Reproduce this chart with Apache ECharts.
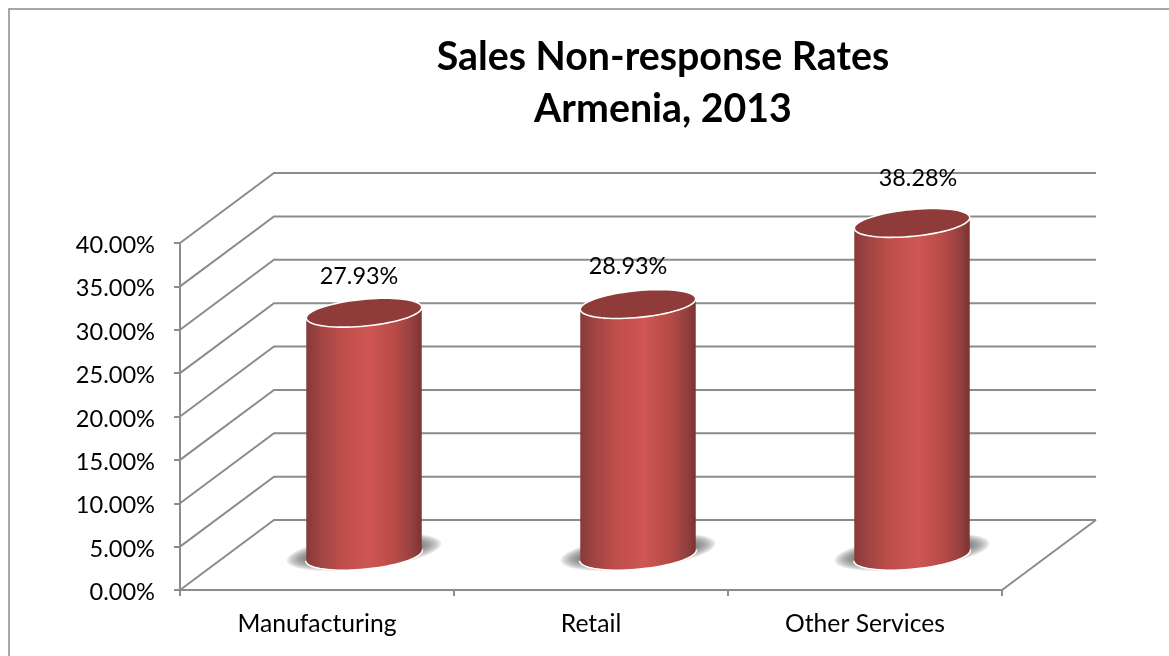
<!DOCTYPE html>
<html>
<head>
<meta charset="utf-8">
<style>html,body{margin:0;padding:0;background:#fff;overflow:hidden}#c{width:1169px;height:656px}</style>
<script src="https://cdn.jsdelivr.net/npm/echarts@6/dist/echarts.min.js"></script>
</head>
<body>
<div id="c"></div>
<script>
const categories = ['Manufacturing', 'Retail', 'Other Services'];
const rates = [27.93, 28.93, 38.28];
const gridValues = [0, 5, 10, 15, 20, 25, 30, 35, 40];
const titleText = 'Sales Non-response Rates\nArmenia, 2013';

const DEPTH_X = 94, DEPTH_Y = -70;
const LABEL_NUDGE = [[-5, -36.5], [-10, -37.5], [6, -44.5]];
const GRID_COLOR = '#8c8c8c';
const LINE_W = 2;
const FONT = 'Lato, "Noto Sans", sans-serif';

function ellipsePoint(cx, cy, a, b, theta, t) {
  return [
    cx + a * Math.cos(t) * Math.cos(theta) - b * Math.sin(t) * Math.sin(theta),
    cy + a * Math.cos(t) * Math.sin(theta) + b * Math.sin(t) * Math.cos(theta)
  ];
}
function arc(cx, cy, a, b, theta, t0, t1, n) {
  const pts = [];
  for (let i = 0; i <= n; i++) pts.push(ellipsePoint(cx, cy, a, b, theta, t0 + (t1 - t0) * i / n));
  return pts;
}

function renderWall(params, api) {
  const cs = params.coordSys;
  const val = api.value(1);
  const y = api.coord([0, val])[1];
  const left = cs.x, right = cs.x + cs.width;
  const children = [{
    type: 'polyline',
    shape: { points: [[left, y], [left + DEPTH_X, y + DEPTH_Y], [right + DEPTH_X, y + DEPTH_Y]] },
    style: { stroke: GRID_COLOR, lineWidth: LINE_W, fill: null }
  }];
  if (val === 0) {
    children.push({
      type: 'line',
      shape: { x1: right, y1: y, x2: right + DEPTH_X, y2: y + DEPTH_Y },
      style: { stroke: GRID_COLOR, lineWidth: LINE_W }
    });
  }
  return { type: 'group', children };
}

function renderCylinder(params, api) {
  const idx = api.value(0);
  const val = api.value(1);
  const base = api.coord([idx, 0]);
  const top = api.coord([idx, val]);
  const cx = base[0] + DEPTH_X / 2;
  const by = base[1] + DEPTH_Y / 2;
  const ty = top[1] + DEPTH_Y / 2;
  const a = 58, b = 13.4, theta = -5.5 * Math.PI / 180;
  const body = arc(cx, ty, a, b, theta, 0, Math.PI, 40).concat(arc(cx, by, a, b, theta, Math.PI, 0, 40));
  const topEllipse = arc(cx, ty, a, b, theta, 0, Math.PI * 2, 80);
  const bottomEdge = arc(cx, by, a, b, theta, 0, Math.PI, 40);
  const shadowLayers = [];
  for (let i = 0; i < 10; i++) {
    const k = i / 9;
    shadowLayers.push({
      type: 'polygon',
      shape: { points: arc(cx, by - 3, 78 - 18 * k, 17 - 8 * k, -6.5 * Math.PI / 180, 0, Math.PI * 2, 60) },
      style: { fill: 'rgba(102,102,102,0.12)' }
    });
  }
  const fill = {
    type: 'linear', x: 0, y: 0, x2: 1, y2: 0,
    colorStops: [
      { offset: 0, color: '#863a38' },
      { offset: 0.12, color: '#a04442' },
      { offset: 0.3, color: '#bd4e4a' },
      { offset: 0.55, color: '#cf5653' },
      { offset: 0.78, color: '#b64a47' },
      { offset: 0.92, color: '#934040' },
      { offset: 1, color: '#7c3331' }
    ]
  };
  const n = LABEL_NUDGE[idx];
  return {
    type: 'group',
    children: shadowLayers.concat([
      { type: 'polyline', shape: { points: bottomEdge },
        style: { stroke: '#ffffff', lineWidth: 3, fill: null } },
      { type: 'polygon', shape: { points: body }, style: { fill } },
      { type: 'polygon', shape: { points: topEllipse },
        style: { fill: '#8e3b3a', stroke: '#ffffff', lineWidth: 1.6 } },
      { type: 'text', x: cx + n[0], y: ty + n[1],
        style: { text: val.toFixed(2) + '%', fill: '#000', font: '23.4px ' + FONT, align: 'center', verticalAlign: 'middle' } }
    ])
  };
}

const chart = echarts.init(document.getElementById('c'), null, { renderer: 'canvas' });
chart.setOption({
  animation: false,
  backgroundColor: '#ffffff',
  graphic: [{
    type: 'rect', z: -10, silent: true,
    shape: { x: 9, y: 9, width: 1400, height: 900 },
    style: { fill: '#ffffff', stroke: '#8a8a8a', lineWidth: 1.5 }
  }],
  title: {
    text: titleText, left: 658, top: 26, textAlign: 'center',
    textStyle: { fontFamily: FONT, fontSize: 39.3, fontWeight: 'bold', lineHeight: 52, color: '#000' }
  },
  grid: { left: 180, right: 167, top: 243, bottom: 66 },
  xAxis: {
    type: 'category', data: categories, boundaryGap: true,
    axisLine: { lineStyle: { color: GRID_COLOR, width: LINE_W } },
    axisTick: { show: true, length: 6, alignWithLabel: false, lineStyle: { color: GRID_COLOR, width: LINE_W } },
    axisLabel: { margin: 22, fontFamily: FONT, fontSize: 24.7, color: '#000', interval: 0 },
    splitLine: { show: false }
  },
  yAxis: {
    type: 'value', min: 0, max: 40, interval: 5,
    axisLine: { show: true, lineStyle: { color: GRID_COLOR, width: LINE_W } },
    axisTick: { show: true, length: 6, lineStyle: { color: GRID_COLOR, width: LINE_W } },
    axisLabel: { margin: 25, fontFamily: FONT, fontSize: 23.6, color: '#000', verticalAlign: 'top', lineHeight: 5, formatter: v => v.toFixed(2) + '%' },
    splitLine: { show: false }
  },
  series: [
    {
      type: 'custom', name: 'Walls', silent: true, clip: false, z: 1,
      renderItem: renderWall,
      encode: { x: 0, y: 1 },
      data: gridValues.map(v => [0, v])
    },
    {
      type: 'custom', name: 'Sales Non-response Rates', silent: true, clip: false, z: 3,
      renderItem: renderCylinder,
      encode: { x: 0, y: 1 },
      data: rates.map((v, i) => [i, v])
    }
  ]
});
</script>
</body>
</html>
